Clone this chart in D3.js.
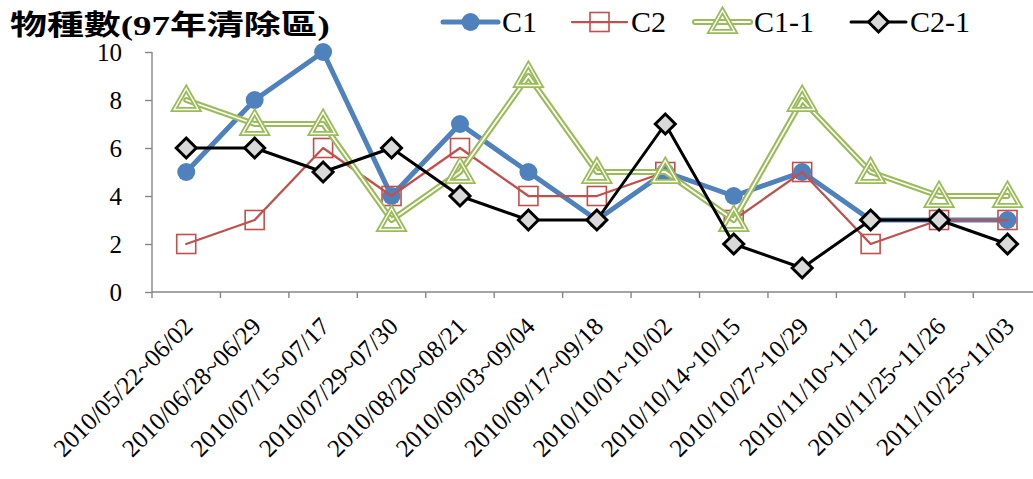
<!DOCTYPE html>
<html>
<head>
<meta charset="utf-8">
<script src="https://cdn.jsdelivr.net/npm/d3@7"></script>
<style>
  html, body { margin: 0; padding: 0; background: #fff; }
  svg { display: block; }
  .serif { font-family: "Liberation Serif", "Times New Roman", Times, serif; }
  .cjk { font-family: "Noto Sans CJK TC", "Noto Sans CJK SC", sans-serif; }
</style>
</head>
<body>
<svg id="chart" width="1033" height="479"></svg>
<script>
// Sampling periods
const categories = [
  "2010/05/22~06/02", "2010/06/28~06/29", "2010/07/15~07/17", "2010/07/29~07/30",
  "2010/08/20~08/21", "2010/09/03~09/04", "2010/09/17~09/18", "2010/10/01~10/02",
  "2010/10/14~10/15", "2010/10/27~10/29", "2010/11/10~11/12", "2010/11/25~11/26",
  "2011/10/25~11/03"
];
// Species counts per plot
const c1   = [5, 8, 10, 4, 7, 5, 3, 5, 4, 5, 3, 3, 3];
const c2   = [2, 3, 6, 4, 6, 4, 4, 5, 3, 5, 2, 3, 3];
const c1_1 = [8, 7, 7, 3, 5, 9, 5, 5, 3, 8, 5, 4, 4];
const c2_1 = [6, 6, 5, 6, 4, 3, 3, 7, 2, 1, 3, 3, 2];
const yTicks = [0, 2, 4, 6, 8, 10];
const titleText = ["物種數", "(97", "年清除區", ")"];

const series = [
  { name: "C1",   values: c1,   type: "circle" },
  { name: "C2",   values: c2,   type: "square" },
  { name: "C1-1", values: c1_1, type: "triangle" },
  { name: "C2-1", values: c2_1, type: "diamond" }
];

const svg = d3.select("#chart");
const axisColor = "#868686";

const plotLeft = 152, plotBottom = 292, plotTop = 52, band = 68.44;
const x = d3.scaleBand().domain(categories).range([plotLeft, plotLeft + band * categories.length]);
const y = d3.scaleLinear().domain([0, 10]).range([plotBottom, plotTop]);
const cx = d => x(d) + x.bandwidth() / 2;

// ---- axes ----
const yAxis = svg.append("g").attr("transform", `translate(${plotLeft},0)`)
  .call(d3.axisLeft(y).tickValues(yTicks).tickSize(7).tickPadding(23).tickFormat(d3.format("d")));
yAxis.attr("font-family", null).attr("font-size", null);
yAxis.select(".domain").remove();
yAxis.selectAll(".tick line").attr("stroke", axisColor).attr("stroke-width", 1.4);
yAxis.selectAll(".tick text").attr("class", "serif").style("font-size", "25px").attr("fill", "#000");

const xg = svg.append("g");
// y axis line
xg.append("line").attr("x1", plotLeft).attr("x2", plotLeft).attr("y1", y(10)).attr("y2", plotBottom + 6)
  .attr("stroke", axisColor).attr("stroke-width", 1.4);
// x axis line
xg.append("line").attr("x1", plotLeft).attr("x2", x.range()[1]).attr("y1", plotBottom).attr("y2", plotBottom)
  .attr("stroke", axisColor).attr("stroke-width", 1.4);
// tick marks on category boundaries
xg.selectAll("line.tk").data(categories).join("line")
  .attr("class", "tk")
  .attr("x1", d => x(d) + x.step())
  .attr("x2", d => x(d) + x.step())
  .attr("y1", plotBottom).attr("y2", plotBottom + 6)
  .attr("stroke", axisColor).attr("stroke-width", 1.4);
// rotated labels
xg.selectAll("text.xl").data(categories).join("text")
  .attr("class", "xl serif")
  .attr("transform", d => `translate(${cx(d) + 8},${plotBottom + 36}) rotate(-45)`)
  .attr("text-anchor", "end")
  .style("font-size", "25px").attr("fill", "#000")
  .text(d => d);

// ---- marker drawing ----
function drawMarker(g, type, px, py) {
  if (type === "circle") {
    g.append("circle").attr("cx", px).attr("cy", py).attr("r", 9).attr("fill", "#4F81BD");
  } else if (type === "square") {
    g.append("rect").attr("x", px - 9.5).attr("y", py - 9.5).attr("width", 19).attr("height", 19)
      .attr("fill", "none").attr("stroke", "#C0504D").attr("stroke-width", 1.6);
  } else if (type === "triangle") {
    const p = `M${px},${py - 11.5}L${px + 12},${py + 9.5}L${px - 12},${py + 9.5}Z`;
    g.append("path").attr("d", p).attr("fill", "none").attr("stroke", "#9BBB59")
      .attr("stroke-width", 5).attr("stroke-linejoin", "miter");
    g.append("path").attr("d", p).attr("fill", "none").attr("stroke", "#fff")
      .attr("stroke-width", 1.4).attr("stroke-linejoin", "miter");
  } else if (type === "diamond") {
    const s = 10;
    g.append("path").attr("d", `M${px},${py - s}L${px + s},${py}L${px},${py + s}L${px - s},${py}Z`)
      .attr("fill", "#D9D9D9").attr("stroke", "#000").attr("stroke-width", 3).attr("stroke-linejoin", "miter");
  }
}

function drawLine(g, type, pts) {
  const line = d3.line().x(d => d[0]).y(d => d[1]);
  if (type === "circle") {
    g.append("path").attr("d", line(pts)).attr("fill", "none").attr("stroke", "#4F81BD")
      .attr("stroke-width", 5).attr("stroke-linejoin", "round").attr("stroke-linecap", "round");
  } else if (type === "square") {
    g.append("path").attr("d", line(pts)).attr("fill", "none").attr("stroke", "#C0504D")
      .attr("stroke-width", 2.25).attr("stroke-linejoin", "round").attr("stroke-linecap", "round");
  } else if (type === "triangle") {
    g.append("path").attr("d", line(pts)).attr("fill", "none").attr("stroke", "#9BBB59")
      .attr("stroke-width", 6).attr("stroke-linejoin", "round").attr("stroke-linecap", "round");
    g.append("path").attr("d", line(pts)).attr("fill", "none").attr("stroke", "#fff")
      .attr("stroke-width", 1.8).attr("stroke-linejoin", "round").attr("stroke-linecap", "round");
  } else if (type === "diamond") {
    g.append("path").attr("d", line(pts)).attr("fill", "none").attr("stroke", "#000")
      .attr("stroke-width", 3).attr("stroke-linejoin", "round").attr("stroke-linecap", "round");
  }
}

// ---- series ----
series.forEach(s => {
  const g = svg.append("g").attr("class", "series");
  const pts = s.values.map((v, i) => [cx(categories[i]), y(v)]);
  drawLine(g, s.type, pts);
  pts.forEach(p => drawMarker(g, s.type, p[0], p[1]));
});

// ---- legend ----
const legendX = [443, 572, 695, 851];
const legendY = 22;
series.forEach((s, i) => {
  const g = svg.append("g").attr("class", "legend");
  const x0 = legendX[i], x1 = x0 + 55;
  drawLine(g, s.type, [[x0, legendY], [x1, legendY]]);
  drawMarker(g, s.type, (x0 + x1) / 2, legendY);
  g.append("text").attr("class", "serif").attr("x", x1 + 4).attr("y", 32)
    .style("font-size", "30px").attr("fill", "#000").text(s.name);
});

// ---- title ----
const title = svg.append("text").attr("x", 0).attr("y", 0)
  .style("font-size", "28px").style("font-weight", "bold").attr("fill", "#000");
titleText.forEach((t, i) => {
  title.append("tspan").attr("class", i % 2 === 1 ? "serif" : "cjk").text(t);
});
const tw = title.node().getComputedTextLength();
title.attr("transform", `translate(10,35) scale(${320 / tw},1)`);
</script>
</body>
</html>
